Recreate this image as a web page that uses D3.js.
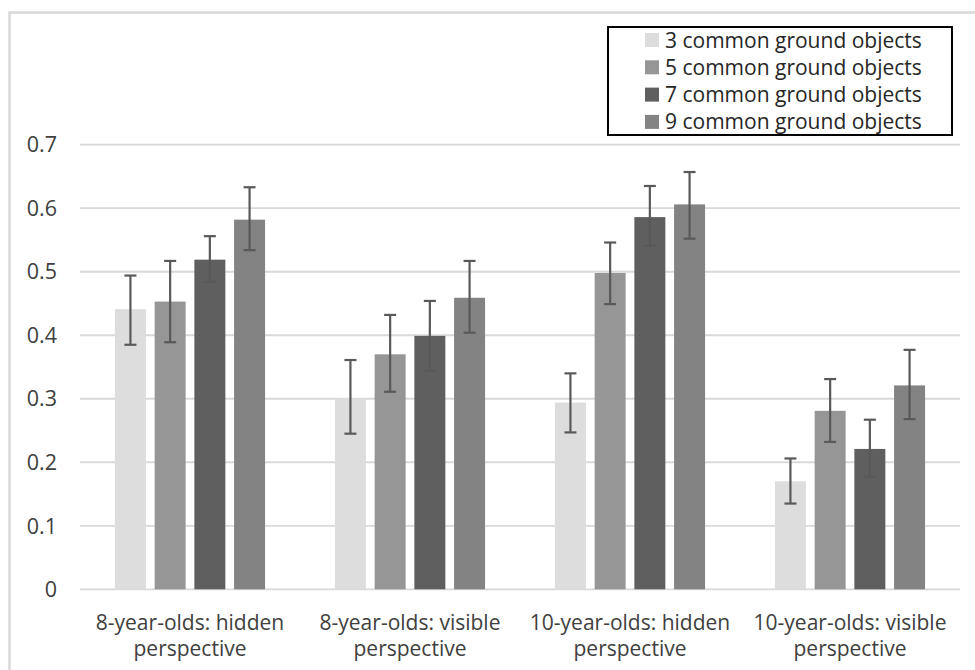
<!DOCTYPE html>
<html>
<head>
<meta charset="utf-8">
<script src="https://cdn.jsdelivr.net/npm/d3@7"></script>
<style>
  html, body { margin: 0; padding: 0; background: #fff; }
  svg { display: block; font-family: "Open Sans", "Liberation Sans", Arial, sans-serif; }
</style>
</head>
<body>
<svg id="chart" width="975" height="670"></svg>
<script>
const categories = [
  ["8-year-olds: hidden", "perspective"],
  ["8-year-olds: visible", "perspective"],
  ["10-year-olds: hidden", "perspective"],
  ["10-year-olds: visible", "perspective"]
];
const seriesNames = ["3 common ground objects", "5 common ground objects", "7 common ground objects", "9 common ground objects"];
const seriesColors = ["#dddddd", "#969696", "#5f5f5f", "#838383"];
// values per series, one per category
const values3 = [0.441, 0.301, 0.294, 0.170];
const values5 = [0.453, 0.370, 0.498, 0.281];
const values7 = [0.519, 0.399, 0.586, 0.221];
const values9 = [0.582, 0.459, 0.606, 0.321];
// error bar lower / upper bounds
const low3 = [0.385, 0.245, 0.247, 0.135];
const high3 = [0.494, 0.361, 0.340, 0.206];
const low5 = [0.389, 0.311, 0.449, 0.232];
const high5 = [0.517, 0.432, 0.546, 0.331];
const low7 = [0.484, 0.344, 0.541, 0.177];
const high7 = [0.556, 0.454, 0.635, 0.267];
const low9 = [0.534, 0.404, 0.552, 0.268];
const high9 = [0.633, 0.517, 0.657, 0.377];
const yTicks = [0, 0.1, 0.2, 0.3, 0.4, 0.5, 0.6, 0.7];

const seriesValues = [values3, values5, values7, values9];
const seriesLow = [low3, low5, low7, low9];
const seriesHigh = [high3, high5, high7, high9];

const svg = d3.select("#chart");

// chart border (light gray, cropped at right/bottom)
svg.append("path")
  .attr("d", "M9.5,680 L9.5,12.5 L980,12.5")
  .attr("fill", "none").attr("stroke", "#d9d9d9").attr("stroke-width", 2.5);

const plotLeft = 80, plotRight = 960, plotTop = 144.7, plotBottom = 589.3;
const x0 = d3.scaleBand().domain(d3.range(categories.length)).range([plotLeft, plotRight]).padding(0);
const x1 = d3.scaleBand().domain(d3.range(seriesNames.length)).range([0, x0.bandwidth()])
  .paddingInner(0.22).paddingOuter(0.88);
const y = d3.scaleLinear().domain([0, 0.7]).range([plotBottom, plotTop]);

// gridlines
svg.append("g").selectAll("line").data(yTicks).join("line")
  .attr("x1", plotLeft).attr("x2", plotRight)
  .attr("y1", d => y(d)).attr("y2", d => y(d))
  .attr("stroke", "#d9d9d9").attr("stroke-width", 1.8);

// y tick labels
svg.append("g").selectAll("text").data(yTicks).join("text")
  .attr("x", 57).attr("y", d => y(d)).attr("dy", "0.36em")
  .attr("text-anchor", "end").attr("font-size", 21.5).attr("fill", "#404040")
  .text(d => d === 0 ? "0" : d3.format(".1f")(d));

// bars
const groups = svg.append("g").selectAll("g").data(seriesNames).join("g");
groups.each(function(name, si) {
  const g = d3.select(this);
  g.selectAll("rect").data(seriesValues[si]).join("rect")
    .attr("x", (d, ci) => x0(ci) + x1(si))
    .attr("width", x1.bandwidth())
    .attr("y", d => y(d))
    .attr("height", d => y(0) - y(d))
    .attr("fill", seriesColors[si]);
});

// error bars
const errColor = "#595959";
seriesNames.forEach((name, si) => {
  const g = svg.append("g");
  const cx = ci => x0(ci) + x1(si) + x1.bandwidth() / 2;
  const data = seriesValues[si].map((v, ci) => ({ci, lo: seriesLow[si][ci], hi: seriesHigh[si][ci]}));
  g.selectAll("line.v").data(data).join("line").attr("class", "v")
    .attr("x1", d => cx(d.ci)).attr("x2", d => cx(d.ci))
    .attr("y1", d => y(d.lo)).attr("y2", d => y(d.hi))
    .attr("stroke", errColor).attr("stroke-width", 2.2);
  ["lo", "hi"].forEach(k => {
    g.selectAll("line.c" + k).data(data).join("line").attr("class", "c" + k)
      .attr("x1", d => cx(d.ci) - 6).attr("x2", d => cx(d.ci) + 6)
      .attr("y1", d => y(d[k])).attr("y2", d => y(d[k]))
      .attr("stroke", errColor).attr("stroke-width", 2.2);
  });
});

// category labels
const catG = svg.append("g");
categories.forEach((lines, ci) => {
  const t = catG.append("text")
    .attr("x", x0(ci) + x0.bandwidth() / 2)
    .attr("text-anchor", "middle").attr("font-size", 21).attr("fill", "#404040");
  lines.forEach((ln, li) => {
    t.append("tspan").attr("x", x0(ci) + x0.bandwidth() / 2).attr("y", 630 + li * 26).text(ln);
  });
});

// legend
const lg = svg.append("g");
lg.append("rect").attr("x", 608).attr("y", 27).attr("width", 344).attr("height", 108)
  .attr("fill", "#fff").attr("stroke", "#000").attr("stroke-width", 2);
seriesNames.forEach((name, i) => {
  const cy = 40 + i * 27.3;
  lg.append("rect").attr("x", 645).attr("y", cy - 7).attr("width", 14).attr("height", 14)
    .attr("fill", seriesColors[i]);
  lg.append("text").attr("x", 665).attr("y", cy).attr("dy", "0.36em")
    .attr("font-size", 21).attr("fill", "#262626").text(name);
});
</script>
</body>
</html>
